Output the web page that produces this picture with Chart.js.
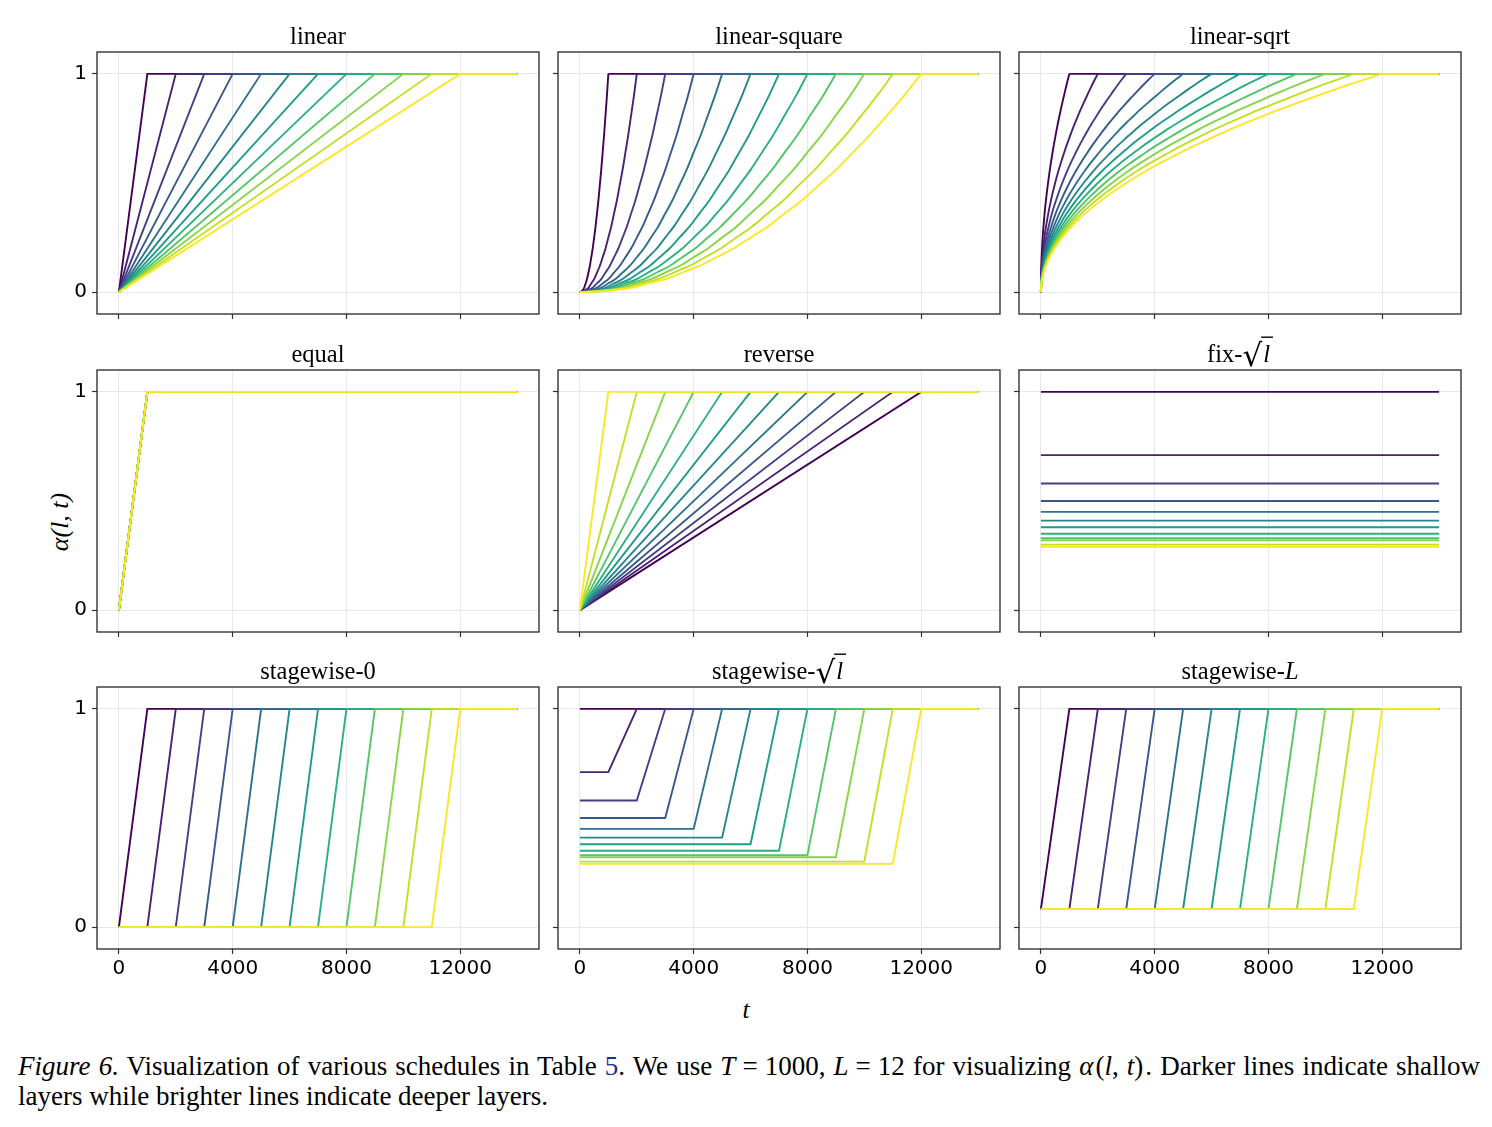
<!DOCTYPE html>
<html>
<head>
<meta charset="utf-8">
<script src="https://cdn.jsdelivr.net/npm/chart.js@4.4.0/dist/chart.umd.min.js"></script>
<style>
body { margin: 0; background: #fff; }
#fig { position: relative; width: 1492px; height: 1127px; font-family: "Liberation Serif", "Times New Roman", serif; color: #000; }
#fig canvas { position: absolute; }
#ylab { position: absolute; left: 60px; top: 522px; font-size: 26px; font-style: italic; white-space: nowrap;
        transform: translate(-50%, -50%) rotate(-90deg); }
#xlab { position: absolute; left: 746px; top: 1010px; font-size: 25px; font-style: italic; transform: translate(-50%, -50%); }
#caption { position: absolute; left: 18px; top: 1051px; font-size: 27px; line-height: 30px; white-space: nowrap; }
#caption .ref { color: #1c2a8f; }
#caption .first { word-spacing: 1.4px; }
#caption .eq { margin: 0 7px; }
#caption .sp { margin: 0 2px; }
</style>
</head>
<body>
<div id="fig">
  <div id="ylab">α(l, t)</div>
  <div id="xlab">t</div>
  <div id="caption"><span class="first"><i>Figure 6.</i> Visualization of various schedules in Table <span class="ref">5</span>. We use <i>T</i><span class="eq">=</span>1000, <i>L</i><span class="eq">=</span>12 for visualizing <i>α</i><span class="sp">(<i>l</i>, <i>t</i>)</span>. Darker lines indicate shallow</span><br>layers while brighter lines indicate deeper layers.</div>
</div>
<script>
// values (T = 1000, L = 12)
const tMax = 14000;
const rampEnds = [1000, 2000, 3000, 4000, 5000, 6000, 7000, 8000, 9000, 10000, 11000, 12000];
const stageStarts = [0, 1000, 2000, 3000, 4000, 5000, 6000, 7000, 8000, 9000, 10000, 11000];
const equalEnd = 1000;
const sqrtLevels = [1, 0.71, 0.58, 0.5, 0.45, 0.41, 0.38, 0.35, 0.33, 0.32, 0.30, 0.29];
const stageLFloor = 0.083;
// curve shapes over one ramp (fraction of ramp -> alpha)
const squareFrac = [0, 0.05, 0.1, 0.15, 0.2, 0.25, 0.3, 0.35, 0.4, 0.45, 0.5, 0.55, 0.6, 0.65, 0.7, 0.75, 0.8, 0.85, 0.9, 0.95, 1];
const squareVals = [0, 0.003, 0.01, 0.02, 0.04, 0.06, 0.09, 0.12, 0.16, 0.2, 0.25, 0.3, 0.36, 0.42, 0.49, 0.56, 0.64, 0.72, 0.81, 0.9, 1];
const sqrtFrac = [0, 0.002, 0.005, 0.01, 0.02, 0.03, 0.05, 0.07, 0.1, 0.13, 0.16, 0.2, 0.25, 0.3, 0.35, 0.4, 0.45, 0.5, 0.55, 0.6, 0.65, 0.7, 0.75, 0.8, 0.85, 0.9, 0.95, 1];
const sqrtVals = [0, 0.045, 0.071, 0.1, 0.141, 0.173, 0.224, 0.265, 0.316, 0.361, 0.4, 0.447, 0.5, 0.548, 0.592, 0.632, 0.671, 0.707, 0.742, 0.775, 0.806, 0.837, 0.866, 0.894, 0.922, 0.949, 0.975, 1];
const xTicks = [0, 4000, 8000, 12000];
const yTicks = [0, 1];
const viridis = ['#440154', '#482173', '#433e85', '#38588c', '#2d708e', '#25858e',
                 '#1e9b8a', '#2ab07f', '#52c569', '#86d549', '#c2df23', '#fde725'];

// panel layout
const colLeft = [97, 558, 1019];
const rowTop = [52, 370, 687];
const panelW = 442, panelH = 262;
const padL = 50, padT = 36, padR = 6;

// curved ramp (smoothed) plus the flat tail, as two pieces of one layer
function shapeLine(frac, vals, end) {
    return [
        { smooth: true, pts: frac.map((f, k) => ({ x: f * end, y: vals[k] })) },
        { pts: [{ x: end, y: 1 }, { x: tMax, y: 1 }] }
    ];
}

function stageLine(floor, start, end) {
    return [{ pts: [{ x: 0, y: floor }, { x: start, y: floor }, { x: end, y: 1 }, { x: tMax, y: 1 }] }];
}

function rampLine(end) {
    return [{ pts: [{ x: 0, y: 0 }, { x: end, y: 1 }, { x: tMax, y: 1 }] }];
}

const panels = [
    { title: [{ t: 'linear' }], lines: rampEnds.map(e => rampLine(e)) },
    { title: [{ t: 'linear-square' }], lines: rampEnds.map(e => shapeLine(squareFrac, squareVals, e)) },
    { title: [{ t: 'linear-sqrt' }], lines: rampEnds.map(e => shapeLine(sqrtFrac, sqrtVals, e)) },
    { title: [{ t: 'equal' }], lines: rampEnds.map(() => rampLine(equalEnd)) },
    { title: [{ t: 'reverse' }], lines: rampEnds.map((e, i) => rampLine(rampEnds[11 - i])) },
    { title: [{ t: 'fix-' }, { t: 'l', italic: true, sqrt: true }],
      lines: sqrtLevels.map(v => [{ pts: [{ x: 0, y: v }, { x: tMax, y: v }] }]) },
    { title: [{ t: 'stagewise-0' }], lines: rampEnds.map((e, i) => stageLine(0, stageStarts[i], e)) },
    { title: [{ t: 'stagewise-' }, { t: 'l', italic: true, sqrt: true }],
      lines: rampEnds.map((e, i) => stageLine(sqrtLevels[i], stageStarts[i], e)) },
    { title: [{ t: 'stagewise-' }, { t: 'L', italic: true }],
      lines: rampEnds.map((e, i) => stageLine(stageLFloor, stageStarts[i], e)) }
];

const TITLE_SIZE = 24.5;
function titleFont(seg) {
    return (seg.italic ? 'italic ' : '') + TITLE_SIZE + 'px "Liberation Serif", serif';
}

// frame box + title with optional radical
const framePlugin = {
    id: 'frame',
    afterDraw(chart) {
        const { ctx, chartArea: a } = chart;
        const segs = chart.options.plugins.frame.segs;
        ctx.save();
        ctx.strokeStyle = '#262626';
        ctx.lineWidth = 1.3;
        ctx.strokeRect(a.left, a.top, a.right - a.left, a.bottom - a.top);

        ctx.fillStyle = '#000';
        ctx.textBaseline = 'alphabetic';
        const radFont = '31px "DejaVu Sans", sans-serif';
        let total = 0;
        segs.forEach(s => {
            if (s.sqrt) { ctx.font = radFont; total += ctx.measureText('√').width; }
            ctx.font = titleFont(s);
            total += ctx.measureText(s.t).width + (s.sqrt ? 4 : 0);
        });
        let x = (a.left + a.right) / 2 - total / 2;
        const base = a.top - 8;
        segs.forEach(s => {
            if (s.sqrt) {
                ctx.font = radFont;
                ctx.fillText('√', x, base + 4);
                const rw = ctx.measureText('√').width;
                x += rw;
                ctx.font = titleFont(s);
                const w = ctx.measureText(s.t).width;
                ctx.fillText(s.t, x + 1, base);
                ctx.fillRect(x - 1, base - 25.5, w + 5, 1.4);
                x += w + 4;
            } else {
                ctx.font = titleFont(s);
                ctx.fillText(s.t, x, base);
                x += ctx.measureText(s.t).width;
            }
        });
        ctx.restore();
    }
};

const fig = document.getElementById('fig');
const tickFont = { family: '"DejaVu Sans", sans-serif', size: 20 };

panels.forEach((p, idx) => {
    const row = Math.floor(idx / 3), col = idx % 3;
    const padB = row === 2 ? 46 : 8;
    const canvas = document.createElement('canvas');
    canvas.width = padL + panelW + padR;
    canvas.height = padT + panelH + padB;
    canvas.style.left = (colLeft[col] - padL) + 'px';
    canvas.style.top = (rowTop[row] - padT) + 'px';
    fig.appendChild(canvas);

    // deeper (brighter) layers are drawn on top
    const datasets = [];
    p.lines.forEach((pieces, i) => {
        pieces.forEach(piece => {
            datasets.push({
                data: piece.pts,
                borderColor: viridis[i],
                borderWidth: 1.9,
                pointRadius: 0,
                fill: false,
                tension: 0,
                cubicInterpolationMode: piece.smooth ? 'monotone' : 'default',
                order: 11 - i
            });
        });
    });

    new Chart(canvas.getContext('2d'), {
        type: 'line',
        data: { datasets: datasets },
        options: {
            responsive: false,
            animation: false,
            devicePixelRatio: 1,
            layout: { padding: { left: 0, top: padT, right: padR, bottom: 0 } },
            plugins: {
                legend: { display: false },
                tooltip: { enabled: false },
                frame: { segs: p.title }
            },
            scales: {
                x: {
                    type: 'linear',
                    min: -770,
                    max: 14770,
                    afterBuildTicks: s => { s.ticks = xTicks.map(v => ({ value: v })); },
                    afterFit: s => { s.height = padB; s.paddingLeft = 0; s.paddingRight = 0; s.paddingTop = 0; s.paddingBottom = 0; },
                    grid: { color: '#e8e8e8', lineWidth: 1, drawTicks: true, tickLength: 5, tickColor: '#333', tickWidth: 1.2 },
                    border: { display: false },
                    ticks: {
                        display: row === 2,
                        font: tickFont,
                        color: '#000',
                        padding: 3,
                        maxRotation: 0,
                        callback: v => String(v)
                    }
                },
                y: {
                    type: 'linear',
                    min: -0.1,
                    max: 1.1,
                    afterBuildTicks: s => { s.ticks = yTicks.map(v => ({ value: v })); },
                    afterFit: s => { s.width = padL; s.paddingLeft = 0; s.paddingRight = 0; s.paddingTop = 0; s.paddingBottom = 0; },
                    grid: { color: '#e8e8e8', lineWidth: 1, drawTicks: true, tickLength: 5, tickColor: '#333', tickWidth: 1.2 },
                    border: { display: false },
                    ticks: {
                        display: col === 0,
                        font: tickFont,
                        color: '#000',
                        padding: 5,
                        callback: v => String(v)
                    }
                }
            }
        },
        plugins: [framePlugin]
    });
});
</script>
</body>
</html>
